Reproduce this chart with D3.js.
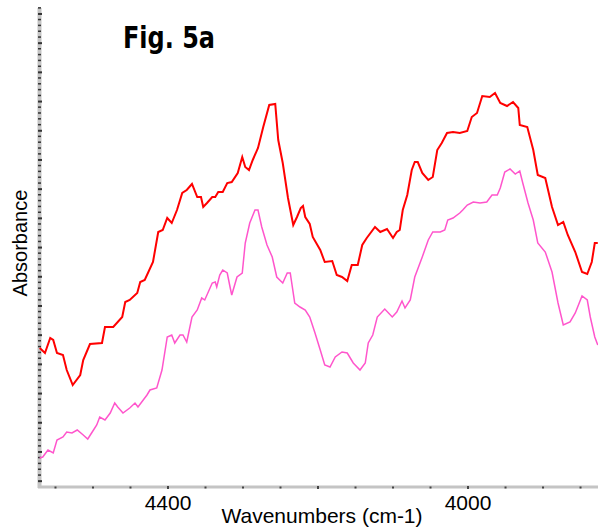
<!DOCTYPE html>
<html>
  <head>
    <title>Fig. 5a</title>
    <script src="https://d3js.org/d3.v7.min.js"></script>
    <style>
      body { margin: 0; background: #fff; }
      text { font-family: Arial, "Liberation Sans", sans-serif; fill: #000; }
    </style>
  </head>
  <body>
  </body>
</html>

<script>
  var width = 598
  var height = 527

  // upper (red) spectrum: wavenumber, absorbance (arbitrary units)
  var redWn = [4571, 4564, 4557, 4553, 4548, 4540, 4535, 4527, 4517, 4513, 4504, 4488, 4484, 4473, 4461, 4457,
               4451, 4441, 4437, 4431, 4420, 4413, 4407, 4401, 4395, 4388, 4381, 4375, 4368, 4361, 4356, 4353,
               4348, 4341, 4337, 4333, 4327, 4321, 4315, 4307, 4301, 4297, 4292, 4287, 4280, 4273, 4265, 4257,
               4253, 4247, 4240, 4233, 4228, 4223, 4220, 4217, 4211, 4207, 4197, 4191, 4181, 4175, 4168, 4161,
               4155, 4147, 4141, 4135, 4124, 4117, 4108, 4100, 4095, 4091, 4087, 4081, 4075, 4071, 4067, 4061,
               4053, 4047, 4041, 4035, 4028, 4020, 4011, 4001, 3995, 3988, 3981, 3971, 3964, 3957, 3948, 3940,
               3933, 3931, 3921, 3913, 3907, 3897, 3888, 3880, 3873, 3867, 3857, 3848, 3841, 3835, 3831, 3827]
  var redAbs = [0.139, 0.134, 0.149, 0.147, 0.134, 0.132, 0.117, 0.102, 0.112, 0.127, 0.143, 0.144, 0.160, 0.160, 0.170, 0.185,
                0.187, 0.194, 0.205, 0.207, 0.225, 0.255, 0.257, 0.269, 0.264, 0.277, 0.294, 0.297, 0.303, 0.290, 0.290, 0.280,
                0.284, 0.290, 0.290, 0.295, 0.295, 0.304, 0.305, 0.314, 0.330, 0.320, 0.317, 0.327, 0.339, 0.360, 0.382, 0.383,
                0.347, 0.324, 0.289, 0.262, 0.270, 0.279, 0.281, 0.270, 0.263, 0.250, 0.237, 0.225, 0.226, 0.212, 0.210, 0.206,
                0.222, 0.222, 0.242, 0.249, 0.260, 0.255, 0.258, 0.249, 0.255, 0.257, 0.277, 0.292, 0.317, 0.325, 0.325, 0.314,
                0.307, 0.310, 0.337, 0.344, 0.354, 0.355, 0.354, 0.356, 0.370, 0.374, 0.391, 0.390, 0.394, 0.384, 0.381, 0.385,
                0.379, 0.362, 0.360, 0.337, 0.312, 0.309, 0.280, 0.262, 0.265, 0.252, 0.235, 0.215, 0.213, 0.225, 0.244, 0.244]

  // lower (pink) spectrum
  var pinkWn = [4571, 4567, 4560, 4553, 4548, 4540, 4535, 4528, 4521, 4513, 4507, 4501, 4495, 4491, 4484, 4477,
                4471, 4467, 4460, 4451, 4444, 4440, 4433, 4428, 4424, 4415, 4408, 4401, 4395, 4391, 4384, 4380,
                4375, 4368, 4361, 4355, 4351, 4341, 4337, 4335, 4331, 4327, 4321, 4317, 4315, 4308, 4301, 4297,
                4291, 4284, 4280, 4275, 4268, 4261, 4255, 4247, 4241, 4237, 4231, 4224, 4217, 4211, 4204, 4197,
                4191, 4184, 4177, 4168, 4161, 4153, 4144, 4137, 4133, 4127, 4121, 4111, 4101, 4095, 4088, 4084,
                4077, 4071, 4061, 4053, 4047, 4037, 4031, 4027, 4020, 4011, 4007, 4001, 3993, 3984, 3975, 3968,
                3961, 3957, 3951, 3944, 3937, 3931, 3927, 3920, 3913, 3907, 3897, 3888, 3880, 3873, 3864, 3857,
                3848, 3841, 3837, 3831, 3827]
  var pinkAbs = [0.029, 0.030, 0.037, 0.034, 0.047, 0.050, 0.055, 0.054, 0.057, 0.052, 0.048, 0.055, 0.062, 0.070, 0.067, 0.074,
                 0.084, 0.080, 0.074, 0.079, 0.084, 0.080, 0.087, 0.092, 0.097, 0.099, 0.117, 0.150, 0.152, 0.144, 0.152, 0.152,
                 0.145, 0.170, 0.177, 0.189, 0.187, 0.204, 0.205, 0.200, 0.212, 0.217, 0.214, 0.199, 0.192, 0.210, 0.214, 0.244,
                 0.264, 0.277, 0.277, 0.260, 0.242, 0.230, 0.210, 0.204, 0.214, 0.214, 0.184, 0.180, 0.177, 0.170, 0.154, 0.137,
                 0.122, 0.120, 0.130, 0.135, 0.134, 0.124, 0.117, 0.124, 0.144, 0.152, 0.170, 0.178, 0.170, 0.175, 0.186, 0.179,
                 0.187, 0.210, 0.230, 0.247, 0.255, 0.255, 0.257, 0.267, 0.269, 0.274, 0.277, 0.282, 0.285, 0.284, 0.285, 0.292,
                 0.292, 0.299, 0.315, 0.318, 0.313, 0.316, 0.304, 0.284, 0.267, 0.244, 0.235, 0.215, 0.184, 0.162, 0.165, 0.174,
                 0.191, 0.187, 0.170, 0.150, 0.142]

  var xMinorTicks = d3.range(4550, 3826, -50)
  var xMajorTicks = [4400, 4200, 4000]
  var xLabels = [4400, 4000]
  var yTickStep = 0.00584
  var yTicks = d3.range(1, 83).map(function(k) { return k * yTickStep })

  var x = d3.scaleLinear()
            .domain([4573.3, 3826.7])
            .range([38, 598])

  var y = d3.scaleLinear()
            .domain([0, 0.479])
            .range([487, 8])

  var svg = d3.select("body")
              .append("svg")
              .attr("width", width)
              .attr("height", height)

  // title
  svg.append("text")
     .attr("x", 123)
     .attr("y", 48)
     .attr("textLength", 92)
     .attr("lengthAdjust", "spacingAndGlyphs")
     .style("font-family", "'Comic Sans MS', 'DejaVu Sans', sans-serif")
     .style("font-weight", "bold")
     .style("font-size", "30px")
     .text("Fig. 5a")

  // axis lines (grey bands)
  svg.append("line")
     .attr("x1", 39.5).attr("x2", 39.5)
     .attr("y1", 8).attr("y2", 488)
     .attr("stroke", "#c4c4c4")
     .attr("stroke-width", 4)

  svg.append("line")
     .attr("x1", 38).attr("x2", 598)
     .attr("y1", 487).attr("y2", 487)
     .attr("stroke", "#c4c4c4")
     .attr("stroke-width", 3)

  // y ticks, every 5th one a little heavier
  svg.selectAll(".ytick")
     .data(yTicks)
     .enter()
     .append("rect")
     .attr("class", "ytick")
     .attr("x", 38)
     .attr("y", function(d) { return y(d) - 1 })
     .attr("width", function(d, i) { return i % 5 == 0 ? 4 : 3 })
     .attr("height", function(d, i) { return i % 5 == 0 ? 2 : 1.5 })
     .attr("fill", "#333")

  // x ticks
  svg.selectAll(".xtick")
     .data(xMinorTicks)
     .enter()
     .append("rect")
     .attr("class", "xtick")
     .attr("x", function(d) { return x(d) - 1 })
     .attr("y", function(d) { return xMajorTicks.indexOf(d) >= 0 ? 486 : 486.5 })
     .attr("width", 2)
     .attr("height", function(d) { return xMajorTicks.indexOf(d) >= 0 ? 3 : 2 })
     .attr("fill", "#444")

  svg.selectAll(".xlabel")
     .data(xLabels)
     .enter()
     .append("text")
     .attr("class", "xlabel")
     .attr("x", function(d) { return x(d) })
     .attr("y", 510)
     .attr("text-anchor", "middle")
     .style("font-size", "21px")
     .text(function(d) { return d })

  svg.append("text")
     .attr("x", 322)
     .attr("y", 523)
     .attr("text-anchor", "middle")
     .style("font-size", "21px")
     .text("Wavenumbers (cm-1)")

  svg.append("text")
     .attr("transform", "translate(27,243) rotate(-90)")
     .attr("text-anchor", "middle")
     .style("font-size", "20px")
     .text("Absorbance")

  // spectra
  var line = d3.line()
               .x(function(d) { return x(d[0]) })
               .y(function(d) { return y(d[1]) })

  var plot = svg.append("g")

  plot.append("path")
      .datum(d3.zip(pinkWn, pinkAbs))
      .attr("d", line)
      .attr("fill", "none")
      .attr("stroke", "#ff55cc")
      .attr("stroke-width", 1.5)

  plot.append("path")
      .datum(d3.zip(redWn, redAbs))
      .attr("d", line)
      .attr("fill", "none")
      .attr("stroke", "#ff0000")
      .attr("stroke-width", 2)
</script>
